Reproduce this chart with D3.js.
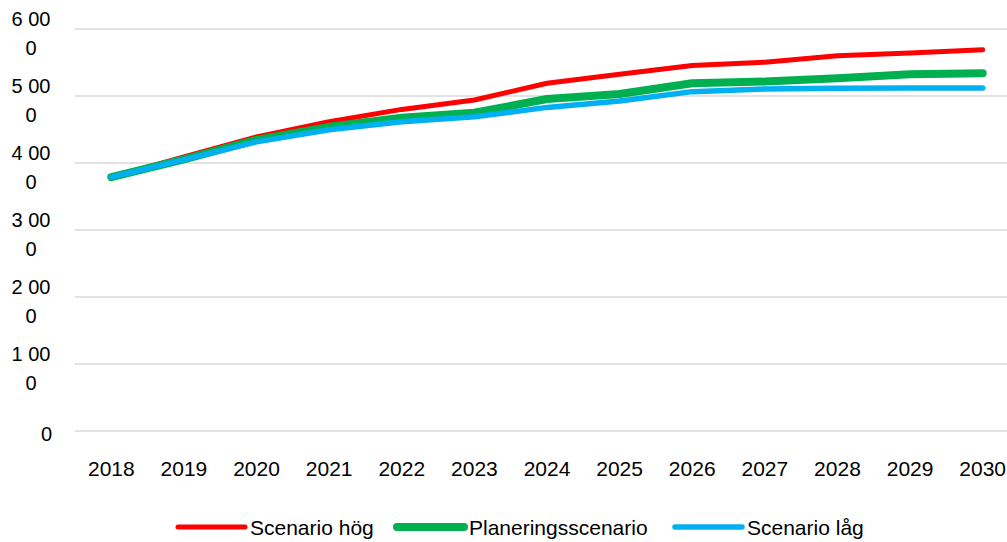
<!DOCTYPE html>
<html>
<head>
<meta charset="utf-8">
<script src="https://cdn.jsdelivr.net/npm/d3@7"></script>
<style>
  body { margin: 0; background: #fff; }
  text { font-family: "Liberation Sans", Arial, sans-serif; fill: #000; }
</style>
</head>
<body>
<div id="chart"></div>
<script>
const width = 1007;
const height = 542;

// data
const years = ["2018","2019","2020","2021","2022","2023","2024","2025","2026","2027","2028","2029","2030"];
const hog = [3790, 4090, 4390, 4615, 4800, 4940, 5190, 5325, 5455, 5505, 5600, 5640, 5690];
const planering = [3790, 4055, 4345, 4540, 4675, 4750, 4955, 5030, 5190, 5215, 5265, 5325, 5340];
const lag = [3790, 4050, 4315, 4495, 4615, 4690, 4830, 4925, 5065, 5105, 5115, 5120, 5120];
const yTicks = [0, 1000, 2000, 3000, 4000, 5000, 6000];
const seriesNames = ["Scenario hög", "Planeringsscenario", "Scenario låg"];
const seriesColors = ["#ff0000", "#00b050", "#00b0f0"];
const seriesWidths = [5, 8, 5.5];

const svg = d3.select("#chart")
  .append("svg")
  .attr("width", width)
  .attr("height", height);

const x = d3.scaleBand()
  .domain(years)
  .range([75, 1019]);

const y = d3.scaleLinear()
  .domain([0, 6000])
  .range([431, 29]);

const fmt = d3.formatLocale({decimal: ",", thousands: " ", grouping: [3], currency: ["", " kr"]}).format(",");

// gridlines
svg.append("g")
  .selectAll("line")
  .data(yTicks)
  .join("line")
  .attr("x1", 75)
  .attr("x2", width)
  .attr("y1", d => y(d))
  .attr("y2", d => y(d))
  .attr("stroke", "#d9d9d9")
  .attr("stroke-width", 1.5);

// y labels, wrapped like the original ("6 00" / "0")
yTicks.forEach(t => {
  const s = fmt(t);
  if (s.length <= 4) {
    svg.append("text")
      .text(s)
      .attr("x", 52)
      .attr("y", y(t) + 10)
      .attr("text-anchor", "end")
      .style("font-size", "20px");
  } else {
    svg.append("text")
      .text(s.slice(0, 4))
      .attr("x", 31)
      .attr("y", y(t) - 3)
      .attr("text-anchor", "middle")
      .style("font-size", "20px");
    svg.append("text")
      .text(s.slice(4))
      .attr("x", 31)
      .attr("y", y(t) + 26)
      .attr("text-anchor", "middle")
      .style("font-size", "20px");
  }
});

// x axis labels
const xAxis = svg.append("g")
  .attr("transform", "translate(0,431)")
  .call(d3.axisBottom(x).tickSize(0).tickPadding(30));
xAxis.select(".domain").remove();
xAxis.selectAll("text")
  .style("font-family", "'Liberation Sans', Arial, sans-serif")
  .style("font-size", "21px")
  .attr("fill", "#000");

// lines
const line = d3.line()
  .x((d, i) => x(years[i]) + x.bandwidth() / 2)
  .y(d => y(d));

[hog, planering, lag].forEach((vals, i) => {
  svg.append("path")
    .datum(vals)
    .attr("d", line)
    .attr("fill", "none")
    .attr("stroke", seriesColors[i])
    .attr("stroke-width", seriesWidths[i])
    .attr("stroke-linecap", "round")
    .attr("stroke-linejoin", "round");
});

// legend
const legendX = [178, 397, 675];
seriesNames.forEach((name, i) => {
  svg.append("line")
    .attr("x1", legendX[i])
    .attr("x2", legendX[i] + 67)
    .attr("y1", 527)
    .attr("y2", 527)
    .attr("stroke", seriesColors[i])
    .attr("stroke-width", seriesWidths[i])
    .attr("stroke-linecap", "round");
  svg.append("text")
    .text(name)
    .attr("x", legendX[i] + 72)
    .attr("y", 535)
    .style("font-size", "21px");
});
</script>
</body>
</html>
